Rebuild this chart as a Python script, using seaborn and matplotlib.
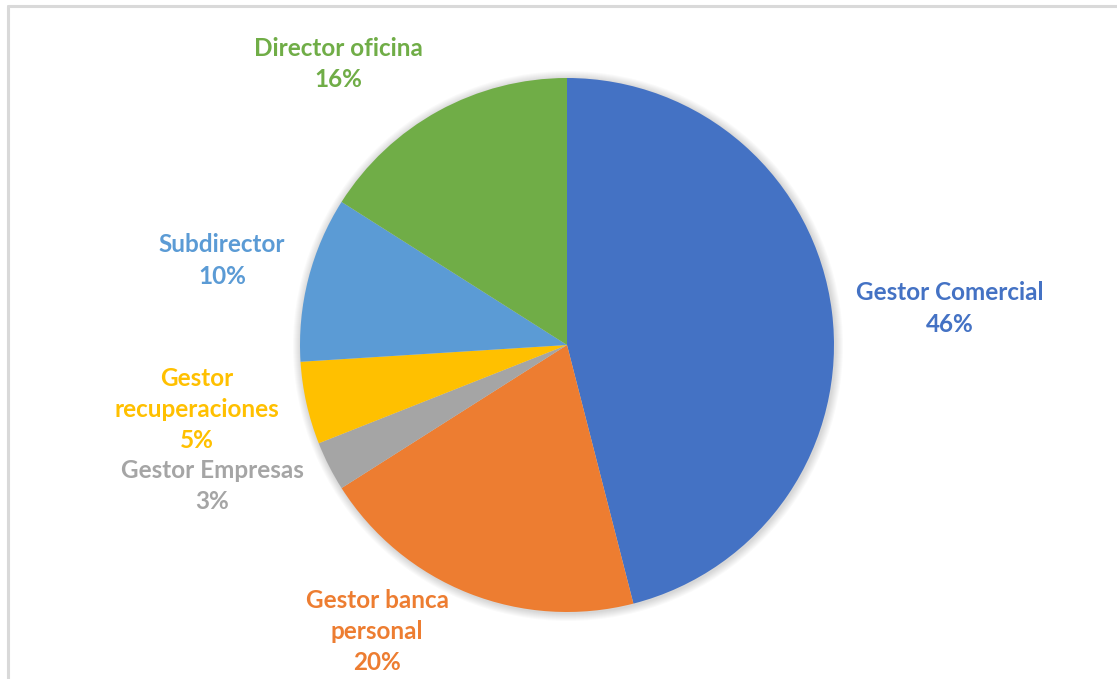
import matplotlib
matplotlib.use("Agg")
import matplotlib.pyplot as plt
from matplotlib.patches import Circle
from matplotlib.lines import Line2D
import seaborn as sns

# Shares of staff by role, clockwise from the top
roles = ["Gestor Comercial", "Gestor banca personal", "Gestor Empresas",
         "Gestor recuperaciones", "Subdirector", "Director oficina"]
label_lines = [["Gestor Comercial"], ["Gestor banca", "personal"], ["Gestor Empresas"],
               ["Gestor", "recuperaciones"], ["Subdirector"], ["Director oficina"]]
shares = [46, 20, 3, 5, 10, 16]
colors = ["#4472C4", "#ED7D31", "#A5A5A5", "#FFC000", "#5B9BD5", "#70AD47"]

sns.set_theme(style="white")
plt.rcParams["font.family"] = ["Lato", "DejaVu Sans"]

W, H = 1117, 679
fig = plt.figure(figsize=(W / 100, H / 100), dpi=100)
ax = fig.add_axes([0, 0, 1, 1])
ax.set_xlim(0, W)
ax.set_ylim(0, H)
ax.set_aspect("equal")
ax.axis("off")

cx, cy, r = 567, H - 345, 267

# soft drop shadow around the pie
for k in range(8, 0, -1):
    ax.add_patch(Circle((cx + 1, cy - 1), r + k, color="black",
                        alpha=0.018, lw=0, zorder=1))

ax.pie(shares, colors=colors, startangle=90, counterclock=False,
       center=(cx, cy), radius=r, frame=True,
       wedgeprops=dict(linewidth=0, zorder=2))
ax.set_xlim(0, W)
ax.set_ylim(0, H)
ax.axis("off")

# label anchors (x, y of the first line) in pixel space
anchors = [(950, 293), (377, 600), (212, 470), (197, 378), (222, 245), (338, 48)]
line_gap = 31.5
for lines, share, col, (lx, ly) in zip(label_lines, shares, colors, anchors):
    for i, t in enumerate(lines + [f"{share}%"]):
        ax.text(lx, H - (ly + i * line_gap), t, color=col, fontsize=17.5,
                fontweight="bold", ha="center", va="center", zorder=5)

# chart-area frame (left and top edges)
frame = "#D9D9D9"
fig.add_artist(Line2D([8 / W, 8 / W], [0, 1 - 6 / H], transform=fig.transFigure,
                      color=frame, lw=2.2))
fig.add_artist(Line2D([8 / W, 1], [1 - 6 / H, 1 - 6 / H], transform=fig.transFigure,
                      color=frame, lw=2.2))

fig.savefig("out.png", dpi=100, facecolor="white")
